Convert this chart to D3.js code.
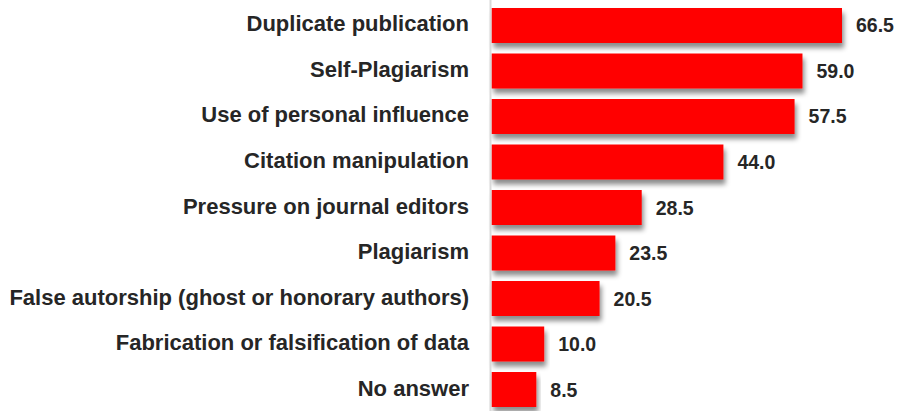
<!DOCTYPE html>
<html>
<head>
<meta charset="utf-8">
<script src="https://cdn.jsdelivr.net/npm/d3@7"></script>
<style>
  body { margin: 0; background: #fff; }
  text { font-family: "Liberation Sans", Arial, sans-serif; font-weight: bold; }
</style>
</head>
<body>
<svg id="chart" width="901" height="411"></svg>
<script>
var categories = [
    "Duplicate publication",
    "Self-Plagiarism",
    "Use of personal influence",
    "Citation manipulation",
    "Pressure on journal editors",
    "Plagiarism",
    "False autorship (ghost or honorary authors)",
    "Fabrication or falsification of data",
    "No answer"
];
var values = [66.5, 59.0, 57.5, 44.0, 28.5, 23.5, 20.5, 10.0, 8.5];

var svg = d3.select("#chart"),
    width = +svg.attr("width"),
    height = +svg.attr("height");

var x0 = 491.5;

// bar shadow
var defs = svg.append("defs");
var f = defs.append("filter")
    .attr("id", "shadow")
    .attr("x", "-5%").attr("y", "-20%")
    .attr("width", "115%").attr("height", "160%");
f.append("feDropShadow")
    .attr("dx", 2).attr("dy", 5)
    .attr("stdDeviation", 2.5)
    .attr("flood-color", "#000")
    .attr("flood-opacity", 0.45);

var x = d3.scaleLinear()
    .domain([0, 66.5])
    .range([x0, 842]);

var y = d3.scaleBand()
    .domain(categories)
    .range([8, 407])
    .paddingInner(0.231)
    .paddingOuter(0);

var data = categories.map(function (c, i) {
    return {name: c, value: values[i]};
});

svg.append("g")
    .attr("class", "bars")
    .selectAll("rect")
    .data(data)
    .enter().append("rect")
    .attr("x", x(0))
    .attr("y", function (d) { return y(d.name); })
    .attr("width", function (d) { return x(d.value) - x(0); })
    .attr("height", y.bandwidth())
    .attr("fill", "#ff0000")
    .attr("filter", "url(#shadow)");

// axis line
svg.append("line")
    .attr("x1", x0 - 1).attr("x2", x0 - 1)
    .attr("y1", 0).attr("y2", height)
    .attr("stroke", "#d9d9d9")
    .attr("stroke-width", 2);

svg.append("g")
    .attr("class", "labels")
    .selectAll("text")
    .data(data)
    .enter().append("text")
    .attr("x", 469)
    .attr("y", function (d) { return y(d.name) + y.bandwidth() / 2 + 6; })
    .attr("text-anchor", "end")
    .attr("fill", "#262626")
    .style("font-size", "22px")
    .text(function (d) { return d.name; });

svg.append("g")
    .attr("class", "values")
    .selectAll("text")
    .data(data)
    .enter().append("text")
    .attr("x", function (d) { return x(d.value) + 14; })
    .attr("y", function (d) { return y(d.name) + y.bandwidth() / 2 + 7; })
    .attr("fill", "#262626")
    .style("font-size", "19.5px")
    .text(function (d) { return d3.format(".1f")(d.value); });
</script>
</body>
</html>
